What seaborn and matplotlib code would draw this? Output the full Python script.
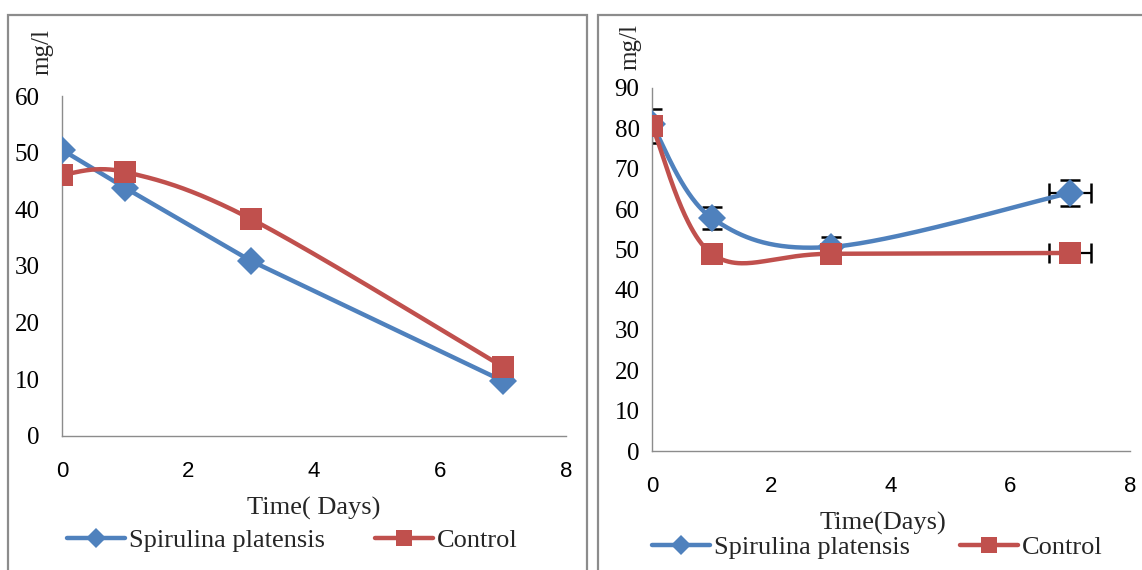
import numpy as np
import pandas as pd
import matplotlib
matplotlib.use("Agg")
import matplotlib.pyplot as plt
from matplotlib.patches import Rectangle
from matplotlib.lines import Line2D
import seaborn as sns

# ---------------- data ----------------
days = [0, 1, 3, 7]
series_names = ["Spirulina platensis", "Control"]

left_spirulina = [50.5, 43.8, 30.9, 9.7]
left_control = [46.1, 46.6, 38.3, 12.2]

right_spirulina = [81.0, 57.8, 50.6, 64.0]
right_control = [80.6, 48.9, 48.9, 49.1]
right_spirulina_yerr = [2.0, 2.7, 2.5, 3.3]
right_control_yerr = [4.2, 1.5, 1.0, 1.0]
right_spirulina_xerr = [0.0, 0.0, 0.0, 0.35]
right_control_xerr = [0.0, 0.0, 0.0, 0.35]

left_yticks = [0, 10, 20, 30, 40, 50, 60]
right_yticks = [0, 10, 20, 30, 40, 50, 60, 70, 80, 90]
xticks = [0, 2, 4, 6, 8]

BLUE = "#4F81BD"
RED = "#C0504D"
GREY = "#8c8c8c"

sns.set_theme(style="white")
plt.rcParams["font.family"] = ["Liberation Serif", "DejaVu Serif"]


def smooth(xs, ys, sx, sy, n=60):
    """Excel-like smoothed line (Catmull-Rom Bezier) computed in pixel space."""
    P = np.column_stack([np.asarray(xs, float) * sx, np.asarray(ys, float) * sy])
    segs = []
    for i in range(len(P) - 1):
        p0 = P[i - 1] if i > 0 else P[i]
        p1, p2 = P[i], P[i + 1]
        p3 = P[i + 2] if i + 2 < len(P) else P[i + 1]
        b1 = p1 + (p2 - p0) / 6.0
        b2 = p2 - (p3 - p1) / 6.0
        t = np.linspace(0, 1, n)[:, None]
        seg = (1 - t) ** 3 * p1 + 3 * (1 - t) ** 2 * t * b1 + 3 * (1 - t) * t ** 2 * b2 + t ** 3 * p2
        segs.append(seg if i == 0 else seg[1:])
    C = np.vstack(segs)
    return C[:, 0] / sx, C[:, 1] / sy


fig = plt.figure(figsize=(11.42, 5.70), dpi=100)

# panel borders
fig.add_artist(Rectangle((8 / 1142, -0.02), 579 / 1142, 0.02 + (570 - 15) / 570,
                         transform=fig.transFigure, fill=False, ec=GREY, lw=1.6))
fig.add_artist(Rectangle((598 / 1142, -0.02), 0.5, 0.02 + (570 - 15) / 570,
                         transform=fig.transFigure, fill=False, ec=GREY, lw=1.6))

axL = fig.add_axes([62 / 1142, (570 - 436) / 570, 504 / 1142, 340 / 570])
axR = fig.add_axes([652 / 1142, (570 - 451) / 570, 478 / 1142, 363 / 570])

LW = 3.2
MS_D = 14.5
MS_S = 16.5

# ---------- left panel ----------
dfL = pd.DataFrame({"day": days * 2,
                    "value": left_spirulina + left_control,
                    "series": [series_names[0]] * 4 + [series_names[1]] * 4})
# Spirulina: straight segments
sns.lineplot(data=dfL[dfL.series == series_names[0]], x="day", y="value", ax=axL,
             color=BLUE, lw=LW, marker="D", markersize=MS_D, markeredgewidth=0,
             zorder=3)
# Control: smoothed
cx, cy = smooth(days, left_control, 63.0, 5.67)
axL.plot(cx, cy, color=RED, lw=LW, zorder=3)
sns.lineplot(data=dfL[dfL.series == series_names[1]], x="day", y="value", ax=axL,
             color=RED, lw=0, marker="s", markersize=MS_S, markeredgewidth=0, zorder=4)
axL.set_xlim(0, 8)
axL.set_ylim(0, 60)
axL.set_yticks(left_yticks)
axL.set_xticks(xticks)
axL.tick_params(axis="x", length=0, pad=18)
axL.tick_params(axis="y", length=0, pad=16)

# ---------- right panel ----------
dfR = pd.DataFrame({"day": days * 2,
                    "value": right_spirulina + right_control,
                    "series": [series_names[0]] * 4 + [series_names[1]] * 4})

axR.errorbar(days, right_spirulina, yerr=right_spirulina_yerr, xerr=right_spirulina_xerr,
             fmt="none", ecolor="black", elinewidth=1.6, capsize=7, capthick=1.8, zorder=2)
axR.errorbar(days, right_control, yerr=right_control_yerr, xerr=right_control_xerr,
             fmt="none", ecolor="black", elinewidth=1.6, capsize=7, capthick=1.8, zorder=2)

sx, sy = smooth(days, right_spirulina, 59.75, 4.03)
axR.plot(sx, sy, color=BLUE, lw=LW, zorder=3)
cx, cy = smooth(days, right_control, 59.75, 4.03)
axR.plot(cx, cy, color=RED, lw=LW, zorder=3)
sns.lineplot(data=dfR[dfR.series == series_names[0]], x="day", y="value", ax=axR,
             color=BLUE, lw=0, marker="D", markersize=MS_D, markeredgewidth=0, zorder=4)
sns.lineplot(data=dfR[dfR.series == series_names[1]], x="day", y="value", ax=axR,
             color=RED, lw=0, marker="s", markersize=MS_S, markeredgewidth=0, zorder=5)
axR.set_xlim(0, 8)
axR.set_ylim(0, 90)
axR.set_yticks(right_yticks)
axR.set_xticks(xticks)
axR.tick_params(axis="x", length=0, pad=18)
axR.tick_params(axis="y", length=6, width=1, color=GREY, direction="out", pad=3)

for ax in (axL, axR):
    for s in ("top", "right"):
        ax.spines[s].set_visible(False)
    for s in ("left", "bottom"):
        ax.spines[s].set_color(GREY)
        ax.spines[s].set_linewidth(1.0)
    ax.set_xlabel("")
    ax.set_ylabel("")
    for lab in ax.get_yticklabels():
        lab.set_fontsize(18)
        lab.set_color("black")
        lab.set_family(["Liberation Serif"])
    for lab in ax.get_xticklabels():
        lab.set_fontsize(16)
        lab.set_color("black")
        lab.set_family(["Liberation Sans"])
    if ax.get_legend() is not None:
        ax.get_legend().remove()

# y labels "mg/l"
fig.text(42 / 1142, 1 - 52 / 570, "mg/l", rotation=90, ha="center", va="center", fontsize=18)
fig.text(630 / 1142, 1 - 47 / 570, "mg/l", rotation=90, ha="center", va="center", fontsize=18)

# x labels
fig.text(314 / 1142, 1 - 508 / 570, "Time( Days)", ha="center", va="center", fontsize=19)
fig.text(883 / 1142, 1 - 523 / 570, "Time(Days)", ha="center", va="center", fontsize=19)

# legends
handles = [Line2D([], [], color=BLUE, lw=LW, marker="D", markersize=10, markeredgewidth=0),
           Line2D([], [], color=RED, lw=LW, marker="s", markersize=12, markeredgewidth=0)]
for cxp, cyp in ((292 / 1142, 1 - 540 / 570), (877 / 1142, 1 - 547 / 570)):
    fig.legend(handles, series_names, loc="center", bbox_to_anchor=(cxp, cyp), ncol=2,
               frameon=False, fontsize=19, handlelength=2.2, handletextpad=0.15,
               columnspacing=1.9, borderpad=0, borderaxespad=0)

fig.savefig("out.png", dpi=100)
